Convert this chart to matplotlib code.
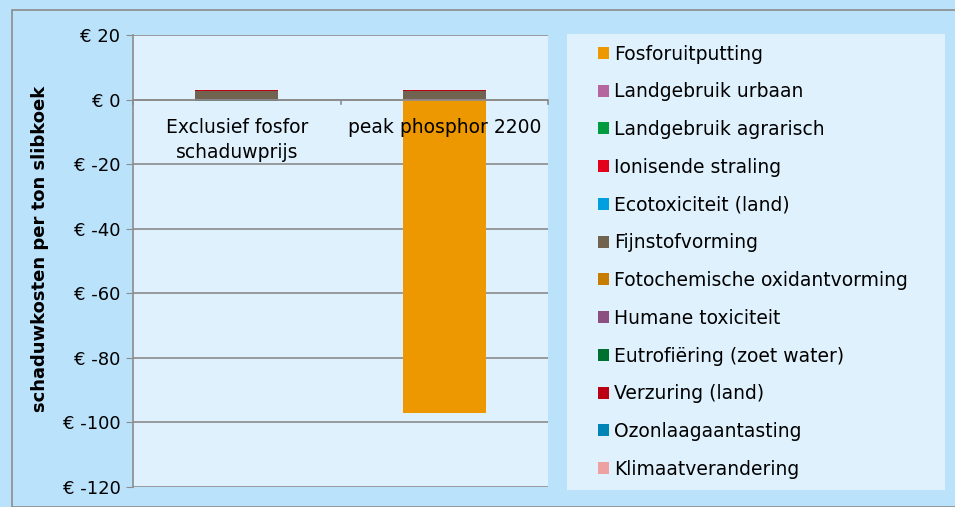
import numpy as np
import matplotlib.pyplot as plt
from matplotlib.patches import Rectangle

# data (series in legend order = stacking order from the axis outward)
categories = ["Exclusief fosfor\nschaduwprijs", "peak phosphor 2200"]
series = ["Fosforuitputting", "Landgebruik urbaan", "Landgebruik agrarisch",
          "Ionisende straling", "Ecotoxiciteit (land)", "Fijnstofvorming",
          "Fotochemische oxidantvorming", "Humane toxiciteit",
          "Eutrofiëring (zoet water)", "Verzuring (land)",
          "Ozonlaagaantasting", "Klimaatverandering"]
values = {
    "Fosforuitputting":             [0.0, -97.2],
    "Landgebruik urbaan":           [0.3, 0.3],
    "Landgebruik agrarisch":        [0.0, 0.0],
    "Ionisende straling":           [0.0, 0.0],
    "Ecotoxiciteit (land)":         [0.0, 0.0],
    "Fijnstofvorming":              [2.3, 2.3],
    "Fotochemische oxidantvorming": [0.05, 0.05],
    "Humane toxiciteit":            [0.05, 0.05],
    "Eutrofiëring (zoet water)":    [-0.4, 0.0],
    "Verzuring (land)":             [0.15, 0.15],
    "Ozonlaagaantasting":           [0.0, 0.0],
    "Klimaatverandering":           [0.25, 0.25],
}
colors = ["#ed9800", "#b5669f", "#009a3f", "#e2001a", "#009fdf", "#706450",
          "#c77b00", "#8b4f80", "#00702f", "#bb0016", "#0083b5", "#eda1a0"]
yticks = [20, 0, -20, -40, -60, -80, -100, -120]

bg = "#bae2fb"
plotbg = "#dff1fd"

plt.rcParams['font.family'] = ['DejaVu Sans']
fig = plt.figure(figsize=(9.55, 5.07), dpi=100, facecolor=bg)
fig.patches.append(Rectangle((12/955, 0), 1, 1 - 10/507, transform=fig.transFigure,
                             fill=False, edgecolor="#8c8c8c", lw=1.2))

ax = fig.add_axes([133/955, 1 - 487/507, 415/955, 452/507])
ax.set_facecolor(plotbg)

x = np.arange(len(categories))
pos = np.zeros(len(categories))
neg = np.zeros(len(categories))
handles = []
for s, c in zip(series, colors):
    v = np.array(values[s])
    bottom = np.where(v >= 0, pos, neg)
    h = ax.bar(x, v, 0.4, bottom=bottom, color=c, label=s)
    handles.append(h)
    pos += np.where(v >= 0, v, 0)
    neg += np.where(v < 0, v, 0)

ax.set_ylim(-120, 20)
ax.set_xlim(-0.5, 1.5)
ax.set_yticks(yticks)
ax.set_yticklabels(["€ %d" % t for t in yticks], fontsize=13)
ax.yaxis.grid(True, color="#8c8c8c", lw=1.2)
ax.set_axisbelow(True)
ax.tick_params(axis='y', length=5, color="#8c8c8c", pad=4)
for side in ["top", "right", "bottom"]:
    ax.spines[side].set_visible(False)
ax.spines["left"].set_color("#8c8c8c")
ax.spines["left"].set_linewidth(1.2)

# zero line with category ticks and labels
ax.axhline(0, color="#8c8c8c", lw=1.2, zorder=1)
ax.set_xticks([])
for xt in [-0.5, 0.5, 1.5]:
    ax.plot([xt, xt], [0, -1.3], color="#8c8c8c", lw=1.2, clip_on=False)
for xi, cat in zip(x, categories):
    ax.text(xi, -5.8, cat, ha="center", va="top", fontsize=13.5, linespacing=1.35)

fig.text(40/955, 0.51, "schaduwkosten per ton slibkoek", rotation=90,
         ha="center", va="center", fontsize=13, fontweight="bold")

# legend
fig.patches.append(Rectangle((567/955, 1 - 490/507), 378/955, 456/507,
                             transform=fig.transFigure, facecolor=plotbg,
                             edgecolor="none"))
fig.legend(handles, series, loc="upper left",
           bbox_to_anchor=(590/955, 1 - 37/507), frameon=False, fontsize=13.5,
           handlelength=0.6, handleheight=0.6, handletextpad=0.3,
           labelspacing=1.0, borderaxespad=0)

fig.savefig("out.png", dpi=100, facecolor=bg)
